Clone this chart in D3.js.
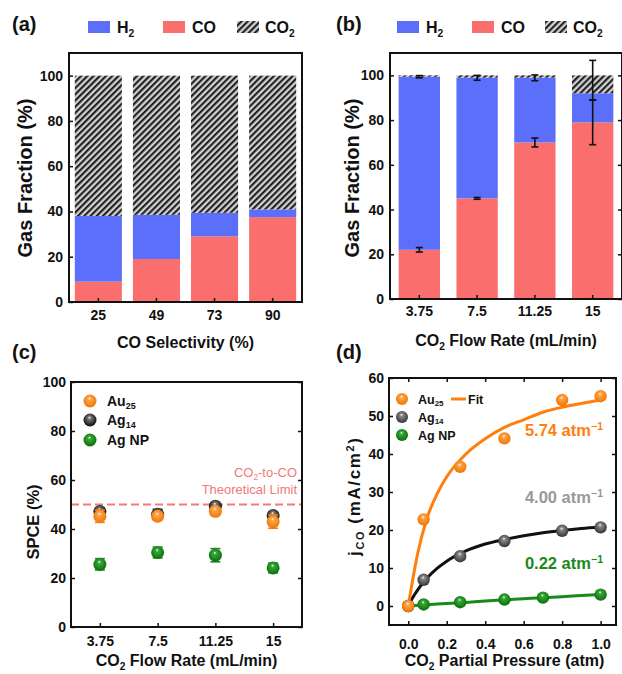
<!DOCTYPE html>
<html>
<head>
<meta charset="utf-8">
<style>
  body { margin: 0; background: #fff; }
  svg text { font-family: "Liberation Sans", Arial, sans-serif; font-weight: bold; fill: #111; }
  svg .tick text { font-size: 14px; font-weight: bold; fill: #111; }
  svg .tick line { stroke: #111; stroke-width: 1.5px; }
  svg .frame { fill: none; stroke: #111; stroke-width: 2px; }
</style>
</head>
<body>
<div id="fig"></div>
<script src="https://cdn.jsdelivr.net/npm/d3@7/dist/d3.min.js"></script>
<script>
  // (a) gas fraction vs CO selectivity
  var aCats = ["25", "49", "73", "90"];
  var aCO  = [9, 19, 29, 37.5];
  var aH2  = [29, 19.5, 10.4, 3.4];
  var aCO2 = [62, 61.5, 60.6, 59.1];

  // (b) gas fraction vs CO2 flow rate
  var bCats = ["3.75", "7.5", "11.25", "15"];
  var bCO  = [22, 45, 70, 79];
  var bH2  = [77.4, 54, 29, 13];
  var bCO2 = [0.6, 1, 1, 8];
  var bCOErr   = [1, 0.4, 2, 10];
  var bTopMean = [99.4, 98.9, 98.9, 97.8];
  var bTopErr  = [0.5, 1.1, 1.3, 8.9];

  // (c) SPCE
  var cCats  = ["3.75", "7.5", "11.25", "15"];
  var cAu    = [45.2, 45.2, 47.2, 43];
  var cAuErr = [2.5, 1.5, 1.5, 2.7];
  var cAg    = [47.1, 46, 49.3, 45.5];
  var cAgErr = [1.5, 2, 1, 1.5];
  var cNP    = [25.6, 30.4, 29.3, 24.1];
  var cNPErr = [2.3, 2.2, 2.7, 2];
  var cLimit = 50;

  // (d) jCO vs partial pressure
  var dP    = [0, 0.08, 0.27, 0.5, 0.8, 1.0];
  var dAu   = [0, 22.8, 36.6, 44.1, 54.2, 55.2];
  var dAg   = [0, 6.9, 13.1, 17.1, 19.8, 20.7];
  var dNPp  = [0, 0.08, 0.27, 0.5, 0.7, 1.0];
  var dNP   = [0, 0.4, 1.0, 1.7, 2.2, 3.0];
  var fitP  = [0, 0.02, 0.05, 0.1, 0.15, 0.2, 0.3, 0.4, 0.5, 0.6, 0.7, 0.8, 0.9, 1.0];
  var fitAu = [0, 6, 14, 23.5, 29.5, 34, 40, 44, 47, 49, 51, 52.3, 53.3, 54.2];
  var fitAg = [0, 1.9, 4.3, 7.5, 9.9, 11.8, 14.5, 16.3, 17.5, 18.5, 19.3, 19.9, 20.4, 20.8];
  var fitNP = [0, 0.07, 0.17, 0.35, 0.5, 0.65, 0.95, 1.3, 1.6, 1.9, 2.2, 2.45, 2.75, 3.0];
  var dK    = ["5.74", "4.00", "0.22"];

  var colCO = "#fa6e6e", colH2 = "#5b6ffa";
  var orange = "#ff7f0e", green = "#1a8a1a";

  var svg = d3.select("#fig").append("svg")
      .attr("width", 622)
      .attr("height", 674);
  var defs = svg.append("defs");

  // hatch for CO2
  var pat = defs.append("pattern")
      .attr("id", "hatch")
      .attr("patternUnits", "userSpaceOnUse")
      .attr("width", 4.4).attr("height", 4.4)
      .attr("patternTransform", "rotate(45)");
  pat.append("rect").attr("width", 4.4).attr("height", 4.4).attr("fill", "#d2d2d2");
  pat.append("line").attr("x1", 1.1).attr("y1", 0).attr("x2", 1.1).attr("y2", 4.4)
      .attr("stroke", "#1c1c1c").attr("stroke-width", 2.1);

  // shaded balls
  function ball(id, light, dark) {
    var gr = defs.append("radialGradient").attr("id", id)
        .attr("cx", "50%").attr("cy", "45%").attr("r", "55%")
        .attr("fx", "45%").attr("fy", "30%");
    gr.append("stop").attr("offset", "0%").attr("stop-color", "#ffffff");
    gr.append("stop").attr("offset", "22%").attr("stop-color", light);
    gr.append("stop").attr("offset", "100%").attr("stop-color", dark);
  }
  ball("bOr", "#ffa64d", "#f07400");
  ball("bBk", "#777777", "#0c0c0c");
  ball("bGy", "#8a8a8a", "#333333");
  ball("bGn", "#3aa83a", "#0b6e0b");

  // text with sub / superscripts
  function rich(g, x, y, parts, size, anchor, color) {
    var t = g.append("text")
        .attr("x", x).attr("y", y)
        .attr("text-anchor", anchor || "start")
        .style("font-size", size + "px");
    if (color) t.style("fill", color);
    var shift = 0;
    parts.forEach(function(p) {
      var s = p[1] === "sub" ? size * 0.22 : p[1] === "sup" ? -size * 0.38 : 0;
      var ts = t.append("tspan").text(p[0]).attr("dy", s - shift);
      if (p[1]) ts.style("font-size", (size * 0.64) + "px");
      shift = s;
    });
    return t;
  }

  function yTitle(x, y, parts, size) {
    var g = svg.append("g").attr("transform", "translate(" + x + "," + y + ") rotate(-90)");
    return rich(g, 0, 0, parts, size, "middle");
  }

  // axes helper: inward ticks, frame drawn separately
  function axes(box, xs, ys, o) {
    var xa = d3.axisBottom(xs).tickSizeInner(-4).tickSizeOuter(0).tickPadding(o.xpad);
    if (o.xticks) xa.tickValues(o.xticks);
    if (o.xfmt) xa.tickFormat(o.xfmt);
    svg.append("g").attr("transform", "translate(0," + box.b + ")").call(xa)
        .call(function(g) { g.select(".domain").remove(); });
    svg.append("g").attr("transform", "translate(" + box.l + ",0)")
        .call(d3.axisLeft(ys).tickValues(o.yticks).tickSizeInner(-4).tickSizeOuter(0).tickPadding(o.ypad))
        .call(function(g) { g.select(".domain").remove(); });
    if (o.right) {
      svg.append("g").attr("transform", "translate(" + box.r + ",0)")
          .call(d3.axisRight(ys).tickValues(o.yticks).tickSizeInner(-4).tickSizeOuter(0).tickFormat(""))
          .call(function(g) { g.select(".domain").remove(); });
    }
    if (o.top) {
      var ta = d3.axisTop(xs).tickSizeInner(-4).tickSizeOuter(0).tickFormat("");
      if (o.xticks) ta.tickValues(o.xticks);
      svg.append("g").attr("transform", "translate(0," + box.t + ")").call(ta)
          .call(function(g) { g.select(".domain").remove(); });
    }
    svg.append("rect").classed("frame", true)
        .attr("x", box.l).attr("y", box.t)
        .attr("width", box.r - box.l).attr("height", box.b - box.t);
  }

  function errBar(x, y0, y1, hw, color) {
    var g = svg.append("g").attr("stroke", color).attr("stroke-width", 1.6);
    g.append("line").attr("x1", x).attr("x2", x).attr("y1", y0).attr("y2", y1);
    g.append("line").attr("x1", x - hw).attr("x2", x + hw).attr("y1", y0).attr("y2", y0);
    g.append("line").attr("x1", x - hw).attr("x2", x + hw).attr("y1", y1).attr("y2", y1);
  }

  var keys = ["CO", "H2", "CO2"];
  var fills = { CO: colCO, H2: colH2, CO2: "url(#hatch)" };

  function stackBars(cats, co, h2, co2, xs, ys) {
    var rows = cats.map(function(c, i) { return { cat: c, CO: co[i], H2: h2[i], CO2: co2[i] }; });
    var layers = d3.stack().keys(keys)(rows);
    svg.append("g").selectAll("g").data(layers).enter().append("g")
        .attr("fill", function(d) { return fills[d.key]; })
      .selectAll("rect").data(function(d) { return d; }).enter().append("rect")
        .attr("x", function(d) { return xs(d.data.cat); })
        .attr("width", xs.bandwidth())
        .attr("y", function(d) { return ys(d[1]); })
        .attr("height", function(d) { return ys(d[0]) - ys(d[1]); });
  }

  function barLegend(items) {
    items.forEach(function(it) {
      svg.append("rect").attr("x", it.sx).attr("y", 21).attr("width", 22).attr("height", 12)
          .attr("fill", it.fill);
      rich(svg, it.tx, 33, it.label, 16);
    });
  }

  // ---------- (a) ----------
  var A = { l: 69, t: 53, r: 302, b: 302 };
  var ax = d3.scaleBand().domain(aCats).range([A.l, A.r]).paddingInner(0.19).paddingOuter(0.1);
  var ay = d3.scaleLinear().domain([0, 110]).range([A.b, A.t]);
  stackBars(aCats, aCO, aH2, aCO2, ax, ay);
  axes(A, ax, ay, { yticks: [0, 20, 40, 60, 80, 100], xpad: 8, ypad: 6 });
  svg.append("text").attr("x", 12).attr("y", 31).style("font-size", "20px").text("(a)");
  barLegend([
    { sx: 88, tx: 117, fill: colH2, label: [["H"], ["2", "sub"]] },
    { sx: 163, tx: 192, fill: colCO, label: [["CO"]] },
    { sx: 237, tx: 265, fill: "url(#hatch)", label: [["CO"], ["2", "sub"]] }
  ]);
  rich(svg, (A.l + A.r) / 2, 348, [["CO Selectivity (%)"]], 16, "middle");
  yTitle(32, 178, [["Gas Fraction (%)"]], 20);

  // ---------- (b) ----------
  var B = { l: 390, t: 53, r: 622, b: 299 };
  var bx = d3.scaleBand().domain(bCats).range([B.l, B.r]).paddingInner(0.285).paddingOuter(0.15);
  var by = d3.scaleLinear().domain([0, 110]).range([B.b, B.t]);
  stackBars(bCats, bCO, bH2, bCO2, bx, by);
  bCats.forEach(function(c, i) {
    var xc = bx(c) + bx.bandwidth() / 2;
    errBar(xc, by(bCO[i] - bCOErr[i]), by(bCO[i] + bCOErr[i]), 3.5, "#111");
    errBar(xc, by(bTopMean[i] - bTopErr[i]), by(bTopMean[i] + bTopErr[i]), 3.5, "#111");
  });
  axes(B, bx, by, { yticks: [0, 20, 40, 60, 80, 100], xpad: 7, ypad: 6, right: true });
  svg.append("text").attr("x", 336).attr("y", 31).style("font-size", "20px").text("(b)");
  barLegend([
    { sx: 397, tx: 426, fill: colH2, label: [["H"], ["2", "sub"]] },
    { sx: 472, tx: 501, fill: colCO, label: [["CO"]] },
    { sx: 545, tx: 573, fill: "url(#hatch)", label: [["CO"], ["2", "sub"]] }
  ]);
  rich(svg, 506, 346, [["CO"], ["2", "sub"], [" Flow Rate (mL/min)"]], 16, "middle");
  yTitle(359, 178, [["Gas Fraction (%)"]], 20);

  // ---------- (c) ----------
  var C = { l: 71, t: 382, r: 302, b: 627 };
  var cx = d3.scalePoint().domain(cCats).range([C.l, C.r]).padding(0.5);
  var cy = d3.scaleLinear().domain([0, 100]).range([C.b, C.t]);

  svg.append("line")
      .attr("x1", C.l).attr("x2", C.r)
      .attr("y1", cy(cLimit)).attr("y2", cy(cLimit))
      .attr("stroke", "#f77878").attr("stroke-width", 2.2)
      .attr("stroke-dasharray", "8,4");

  var cSeries = [
    { v: cAg, e: cAgErr, col: "#111", ball: "url(#bBk)" },
    { v: cAu, e: cAuErr, col: orange, ball: "url(#bOr)" },
    { v: cNP, e: cNPErr, col: green, ball: "url(#bGn)" }
  ];
  cSeries.forEach(function(s) {
    cCats.forEach(function(c, i) {
      errBar(cx(c), cy(s.v[i] - s.e[i]), cy(s.v[i] + s.e[i]), 5, s.col);
    });
    svg.append("g").selectAll("circle").data(s.v).enter().append("circle")
        .attr("cx", function(d, i) { return cx(cCats[i]); })
        .attr("cy", function(d) { return cy(d); })
        .attr("r", 6.5)
        .attr("fill", s.ball);
  });
  axes(C, cx, cy, { yticks: [0, 20, 40, 60, 80, 100], xpad: 9, ypad: 5, right: true });

  rich(svg, 297, 477, [["CO"], ["2", "sub"], ["-to-CO"]], 13, "end", "#f47878").style("font-weight", "normal");
  rich(svg, 297, 494, [["Theoretical Limit"]], 13, "end", "#f47878").style("font-weight", "normal");

  var cLeg = [
    { y: 401, ball: "url(#bOr)", label: [["Au"], ["25", "sub"]] },
    { y: 420, ball: "url(#bBk)", label: [["Ag"], ["14", "sub"]] },
    { y: 440, ball: "url(#bGn)", label: [["Ag NP"]] }
  ];
  cLeg.forEach(function(l) {
    svg.append("circle").attr("cx", 90).attr("cy", l.y).attr("r", 6.5).attr("fill", l.ball);
    rich(svg, 107, l.y + 5, l.label, 14);
  });
  svg.append("text").attr("x", 12).attr("y", 359).style("font-size", "20px").text("(c)");
  rich(svg, (C.l + C.r) / 2, 666, [["CO"], ["2", "sub"], [" Flow Rate (mL/min)"]], 16, "middle");
  yTitle(39, 522, [["SPCE (%)"]], 16.5);

  // ---------- (d) ----------
  var D = { l: 389, t: 378, r: 616, b: 625 };
  var dx = d3.scaleLinear().domain([-0.1, 1.08]).range([D.l, D.r]);
  var dy = d3.scaleLinear().domain([-5, 60]).range([D.b, D.t]);
  var fitLine = d3.line()
      .x(function(d) { return dx(d[0]); })
      .y(function(d) { return dy(d[1]); })
      .curve(d3.curveMonotoneX);

  var dSeries = [
    { p: dNPp, v: dNP, fit: fitNP, col: green, ball: "url(#bGn)" },
    { p: dP, v: dAg, fit: fitAg, col: "#111", ball: "url(#bGy)" },
    { p: dP, v: dAu, fit: fitAu, col: orange, ball: "url(#bOr)" }
  ];
  dSeries.forEach(function(s) {
    svg.append("path")
        .attr("d", fitLine(fitP.map(function(p, i) { return [p, s.fit[i]]; })))
        .attr("fill", "none").attr("stroke", s.col).attr("stroke-width", 3);
  });
  dSeries.forEach(function(s) {
    svg.append("g").selectAll("circle").data(s.v).enter().append("circle")
        .attr("cx", function(d, i) { return dx(s.p[i]); })
        .attr("cy", function(d) { return dy(d); })
        .attr("r", 6.2)
        .attr("fill", s.ball);
  });
  axes(D, dx, dy, {
    yticks: [0, 10, 20, 30, 40, 50, 60], xticks: [0, 0.2, 0.4, 0.6, 0.8, 1.0],
    xfmt: d3.format(".1f"), xpad: 14, ypad: 5, right: true, top: true
  });

  var kCols = [orange, "#999999", green];
  var kY = [436, 503, 569];
  dK.forEach(function(k, i) {
    rich(svg, 603, kY[i], [[k + " atm"], ["\u22121", "sup"]], 16.5, "end", kCols[i]);
  });

  var dLeg = [
    { y: 399, ball: "url(#bOr)", label: [["Au"], ["25", "sub"]] },
    { y: 417, ball: "url(#bGy)", label: [["Ag"], ["14", "sub"]] },
    { y: 435, ball: "url(#bGn)", label: [["Ag NP"]] }
  ];
  dLeg.forEach(function(l) {
    svg.append("circle").attr("cx", 402).attr("cy", l.y).attr("r", 6).attr("fill", l.ball);
    rich(svg, 418, l.y + 4.5, l.label, 12.5);
  });
  svg.append("line").attr("x1", 451).attr("x2", 466).attr("y1", 399).attr("y2", 399)
      .attr("stroke", orange).attr("stroke-width", 3);
  rich(svg, 468, 403.5, [["Fit"]], 12.5);

  svg.append("text").attr("x", 336).attr("y", 359).style("font-size", "20px").text("(d)");
  rich(svg, (D.l + D.r) / 2 + 2, 666, [["CO"], ["2", "sub"], [" Partial Pressure (atm)"]], 16, "middle");
  yTitle(360, 497, [["j"], ["CO", "sub"], [" (mA/cm"], ["2", "sup"], [")"]], 17)
      .attr("textLength", 118).attr("lengthAdjust", "spacing");
</script>
</body>
</html>
